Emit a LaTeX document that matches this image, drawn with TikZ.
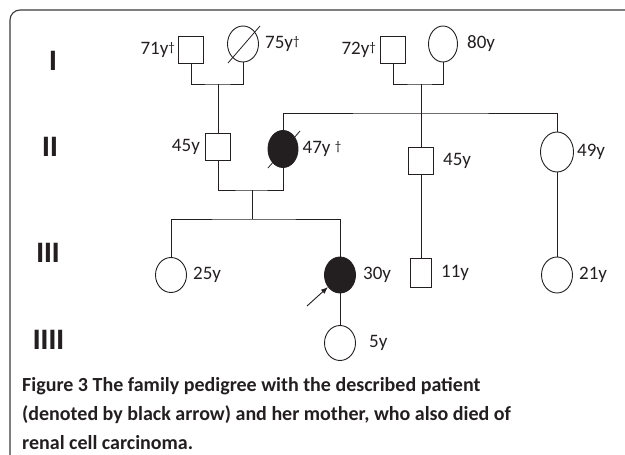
\documentclass[tikz,border=0pt]{standalone}
\usepackage{fontspec}
\setmainfont{Carlito}
\newfontfamily\romanfont{Liberation Sans}
\usetikzlibrary{arrows.meta,positioning,calc,shapes.geometric}
\definecolor{ink}{HTML}{231F20}
\definecolor{rule}{HTML}{3A3A3A}
\tikzset{
  >={Latex[length=7bp,width=5.5bp]},
  every node/.style={text=ink},
  male/.style={draw=ink,line width=0.9bp,rectangle,minimum width=25bp,minimum height=27bp,inner sep=0pt},
  female/.style={draw=ink,line width=0.9bp,ellipse,minimum width=31bp,minimum height=36bp,inner sep=0pt},
  affected/.style={fill=ink},
  line/.style={draw=ink,line width=0.9bp},
  slash/.style={draw=ink,line width=0.8bp},
  pointer/.style={->,draw=ink,line width=0.9bp},
  frame/.style={draw=rule,line width=1.1bp,rounded corners=10bp},
  age/.style={font=\fontsize{19bp}{22bp}\selectfont,inner sep=0pt},
  gen/.style={font=\romanfont\bfseries\fontsize{28bp}{30bp}\selectfont,inner sep=0pt},
  caption/.style={font=\bfseries\fontsize{20bp}{29bp}\selectfont,align=left,anchor=north west,inner sep=0pt},
}
\newcommand{\deceased}[1]{\draw[slash] ($(#1.center)+(-15,19)$) -- ($(#1.center)+(17,-18)$);}
\newcommand{\dg}{\raisebox{3bp}{\fontsize{13bp}{13bp}\selectfont †}}

\begin{document}
\begin{tikzpicture}[x=1bp,y=-1bp]
  \useasboundingbox (0,0) rectangle (625,455);
  \draw[frame] (625,10) -| (10,455);

  % generations
  \node[gen] (g1) at (53,61) {I};
  \node[gen] (g2) at (50,147) {II};
  \node[gen] (g3) at (48,253) {III};
  \node[gen] (g4) at (48.5,340) {IIII};

  % generation I
  \node[male] (gf1) at (191,50) {};
  \node[female] (gm1) at (243,44) {};
  \deceased{gm1}
  \node[male] (gf2) at (393,50) {};
  \node[female,minimum width=29bp] (gm2) at (443,44) {};
  \node[age,left=3bp of gf1] (l71) {71y\dg};
  \node[age,right=6bp of gm1] (l75) {75y\dg};
  \node[age,left=4bp of gf2] (l72) {72y\dg};
  \node[age,right=9bp of gm2] (l80) {80y};

  % generation II
  \node[male] (fa) at (218,147) {};
  \node[female,affected,minimum width=30bp,minimum height=37bp] (mo) at (283,149) {};
  \deceased{mo}
  \node[male] (un) at (421,161) {};
  \node[female,minimum width=33bp,minimum height=40bp] (au) at (557,152) {};
  \node[age,left=5bp of fa] (l45a) {45y};
  \node[age,right=4bp of mo] (l47) {47y \dg};
  \node[age,right=9bp of un] (l45b) {45y};
  \node[age,right=3bp of au] (l49) {49y};

  % generation III
  \node[female,minimum height=35bp] (si) at (171,275) {};
  \node[female,affected] (pr) at (340,275) {};
  \node[male,minimum width=21bp,minimum height=29bp] (co) at (421,273) {};
  \node[female] (cz) at (557,275) {};
  \node[age,right=6bp of si] (l25) {25y};
  \node[age,right=7bp of pr] (l30) {30y};
  \node[age,right=9bp of co] (l11) {11y};
  \node[age,right=6bp of cz] (l21) {21y};

  % generation IIII
  \node[female,minimum height=35bp] (ch) at (340,343) {};
  \node[age,right=13bp of ch] (l5) {5y};

  % couples and sibships
  \coordinate (c1) at (218,84);
  \draw[line] (gf1.south) |- (c1) -| (gm1.south);
  \draw[line] (c1) -- (fa.north);
  \coordinate (c2) at (421,84);
  \draw[line] (gf2.south) |- (c2) -| (gm2.south);
  \draw[line] (c2) -- (un.north);
  \coordinate (s2) at (421,113);
  \draw[line] (mo.north) |- (s2) -| (au.north);
  \coordinate (c3) at (252,190);
  \draw[line] (fa.south) |- (c3) -| (mo.south);
  \coordinate (s3) at (252,219);
  \draw[line] (c3) -- (s3);
  \draw[line] (si.north) |- (s3) -| (pr.north);
  \draw[line] (un.south) -- (co.north);
  \draw[line] (au.south) -- (cz.north);
  \draw[line] (pr.south) -- (ch.north);

  % proband
  \coordinate (ptr) at (307,306);
  \draw[pointer] (ptr) -- (pr.225);

  \node[caption] (cap) at (22,377) {Figure 3 The family pedigree with the described patient\\
    (denoted by black arrow) and her mother, who also died of\\
    renal cell carcinoma.};
\end{tikzpicture}
\end{document}
